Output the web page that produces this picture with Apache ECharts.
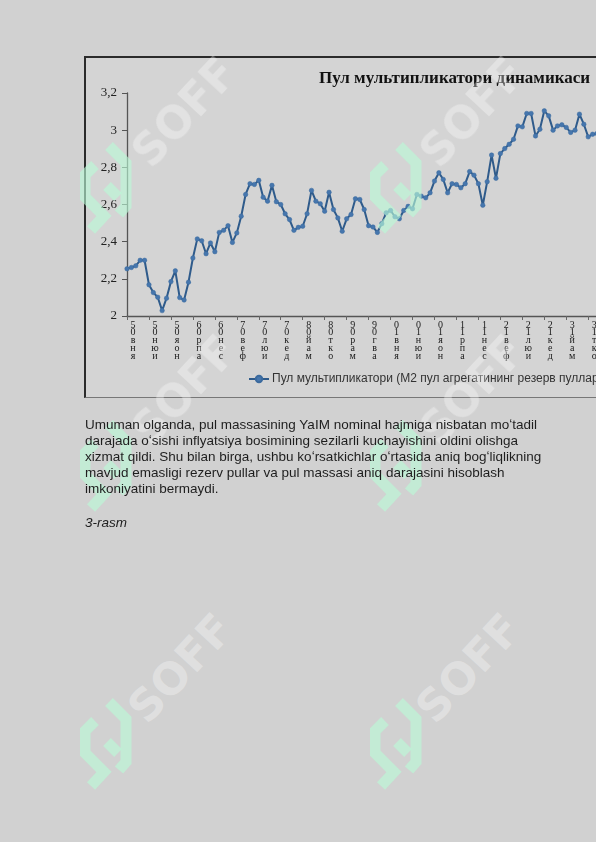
<!DOCTYPE html>
<html>
<head>
<meta charset="utf-8">
<script src="https://cdn.jsdelivr.net/npm/echarts@6/dist/echarts.min.js"></script>
<style>
html,body{margin:0;padding:0;width:596px;height:842px;overflow:hidden;background:#d1d1d1;}
#box{position:absolute;left:84px;top:56px;width:650px;height:339px;border-top:2px solid #2b2b2b;border-left:2px solid #2b2b2b;border-bottom:1px solid #777;background:#d4d4d4;}
#chart{position:absolute;left:0;top:0;width:650px;height:339px;}
#para{position:absolute;left:85px;top:417px;width:480px;font-family:"Liberation Sans",Arial,sans-serif;font-size:13.5px;line-height:16px;color:#1e1e1e;white-space:nowrap;z-index:5;}
#cap{position:absolute;left:85px;top:515px;font-family:"Liberation Sans",Arial,sans-serif;font-size:13.5px;font-style:italic;color:#1e1e1e;z-index:5;}
.wm{position:absolute;font-family:"DejaVu Sans",sans-serif;font-weight:bold;font-size:44px;color:rgba(255,255,255,0.33);transform:translate(-50%,-50%) rotate(-47deg);pointer-events:none;white-space:nowrap;z-index:3;}
.logo{position:absolute;width:56px;height:98px;pointer-events:none;z-index:4;}
</style>
</head>
<body>
<div id="box"><div id="chart"></div></div>
<div id="para">Umuman olganda, pul massasining YaIM nominal hajmiga nisbatan moʻtadil<br>darajada oʻsishi inflyatsiya bosimining sezilarli kuchayishini oldini olishga<br>xizmat qildi. Shu bilan birga, ushbu koʻrsatkichlar oʻrtasida aniq bogʻliqlikning<br>mavjud emasligi rezerv pullar va pul massasi aniq darajasini hisoblash<br>imkoniyatini bermaydi.</div>
<div id="cap">3-rasm</div>
<script>
// ---- data ----
var monthNames = ['янв','фев','мар','апр','май','июн','июл','авг','сен','окт','ноя','дек'];
var startYear = 5; // 2005
var multiplier = [
2.254,2.261,2.27,2.30,2.30,2.168,2.126,2.101,2.029,2.096,
2.185,2.243,2.099,2.086,2.182,2.312,2.415,2.405,2.335,2.393,
2.346,2.45,2.461,2.486,2.396,2.447,2.537,2.654,2.712,2.708,
2.73,2.639,2.618,2.703,2.615,2.60,2.55,2.519,2.461,2.477,
2.483,2.55,2.676,2.618,2.604,2.564,2.666,2.573,2.528,2.456,
2.523,2.546,2.631,2.627,2.573,2.486,2.479,2.45,2.497,2.555,
2.568,2.534,2.523,2.568,2.59,2.577,2.654,2.645,2.636,2.663,
2.726,2.771,2.735,2.663,2.712,2.708,2.69,2.712,2.777,2.758,
2.712,2.596,2.723,2.866,2.741,2.874,2.901,2.924,2.951,3.023,
3.018,3.09,3.09,2.969,3.005,3.104,3.077,3.0,3.023,3.029,
3.015,2.988,3.0,3.086,3.032,2.964,2.978,2.982
];
var yTicks = [2, 2.2, 2.4, 2.6, 2.8, 3, 3.2];
var titleText = 'Пул мультипликатори динамикаси';
var seriesName = 'Пул мультипликатори (М2 пул агрегатининг резерв пулларга нисбати)';

var categories = [];
for (var i = 0; i < multiplier.length; i++) {
  var m = i % 12, y = startYear + Math.floor(i / 12);
  categories.push(monthNames[m] + (y < 10 ? '0' + y : '' + y));
}

var chart = echarts.init(document.getElementById('chart'), null, {renderer: 'canvas'});
chart.setOption({
  animation: false,
  backgroundColor: '#d4d4d4',
  title: {
    text: titleText, left: 233, top: 12, padding: 0,
    textStyle: {fontFamily: 'Liberation Serif', fontWeight: 'bold', fontSize: 17, color: '#111'}
  },
  legend: {
    left: 162, top: 315, padding: 0, itemWidth: 20, itemHeight: 8, itemGap: 5,
    data: [seriesName],
    textStyle: {fontFamily: 'Liberation Sans', fontSize: 12, color: '#333', padding: [0,0,0,-2]}
  },
  grid: {left: 41, top: 35, width: 470, height: 223, containLabel: false},
  xAxis: {
    type: 'category', boundaryGap: false, data: categories,
    axisLine: {lineStyle: {color: '#555', width: 1.3}},
    axisTick: {show: true, interval: 4, length: 4, lineStyle: {color: '#666'}},
    axisLabel: {
      interval: 4, margin: 5, fontFamily: 'Liberation Serif', fontSize: 10, lineHeight: 7.8,
      color: '#1a1a1a', align: 'center', padding: [0,0,0,12],
      formatter: function (v) { return v.split('').reverse().join('\n'); }
    },
    splitLine: {show: false}
  },
  yAxis: {
    type: 'value', min: yTicks[0], max: yTicks[yTicks.length - 1], interval: 0.2,
    axisLine: {show: true, lineStyle: {color: '#555', width: 1.3}},
    axisTick: {show: true, length: 5, lineStyle: {color: '#555'}},
    axisLabel: {
      margin: 10, fontFamily: 'Liberation Serif', fontSize: 13, color: '#222',
      formatter: function (v) { return String(+v.toFixed(1)).replace('.', ','); }
    },
    splitLine: {show: false}
  },
  series: [{
    name: seriesName, type: 'line', data: multiplier,
    symbol: 'circle', symbolSize: 4.5, showAllSymbol: true,
    lineStyle: {color: '#2f5b8b', width: 2},
    itemStyle: {color: '#4676ad', borderColor: '#3b6a9e', borderWidth: 0.5}
  }]
});

// ---- watermark ----
var wmCenters = [[184,112],[472,112],[184,390],[472,390],[180,668],[468,668]];
var logoOrigins = [[80,142],[370,142],[80,420],[370,420],[80,698],[370,698]];
logoOrigins.forEach(function (p) {
  var d = document.createElement('div');
  d.className = 'logo';
  d.style.left = p[0] + 'px'; d.style.top = p[1] + 'px';
  d.innerHTML = '<svg width="56" height="98" viewBox="0 0 56 98"><g fill="none" stroke="rgba(185,250,215,0.62)" stroke-width="11" stroke-linejoin="miter" stroke-linecap="butt">' +
    '<path d="M29,4 L46,21 L46,64 L39,72"/><path d="M15,23 L5,33 L5,55 L24,74 L11,88"/><path d="M27,44 L38,55"/></g></svg>';
  document.body.appendChild(d);
});
wmCenters.forEach(function (p) {
  var d = document.createElement('div');
  d.className = 'wm';
  d.textContent = 'SOFF';
  d.style.left = p[0] + 'px'; d.style.top = p[1] + 'px';
  document.body.appendChild(d);
});
</script>
</body>
</html>
